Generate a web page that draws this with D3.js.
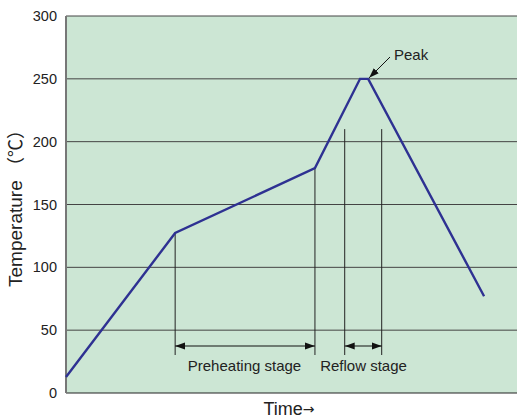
<!DOCTYPE html>
<html><head><meta charset="utf-8">
<script src="https://cdn.jsdelivr.net/npm/d3@7"></script>
<style>body{margin:0;background:#fff}svg{display:block;font-family:"Liberation Sans",Arial,sans-serif}</style>
</head><body>
<svg id="c" width="517" height="418"></svg>
<script>
const yTicks = [0, 50, 100, 150, 200, 250, 300];
const profileTime = [0, 24.2, 55.2, 65.2, 67.0, 92.7];
const profileTemp = [12.7, 127.3, 179, 250, 250, 77];
const preheatTimes = [24.2, 55.2];
const reflowTimes = [61.8, 70.0];
const reflowTopTemp = 210;
const stageLabels = ["Preheating stage", "Reflow stage"];

const svg = d3.select("#c");
const m = {l: 66, t: 16, r: 0, b: 25};
const W = 517, H = 418;
const x = d3.scaleLinear().domain([0, 100]).range([m.l, W - m.r]);
const y = d3.scaleLinear().domain([0, 300]).range([H - m.b, m.t]);

svg.append("defs").append("marker").attr("id","ah").attr("viewBox","0 0 10 10")
  .attr("refX",10).attr("refY",5).attr("markerWidth",10).attr("markerHeight",10)
  .attr("markerUnits","userSpaceOnUse").attr("orient","auto-start-reverse")
  .append("path").attr("d","M0,1.5L10,5L0,8.5Z").attr("fill","#111");

svg.append("rect").attr("x", x(0)).attr("y", y(300)).attr("width", x(100)-x(0)).attr("height", y(0)-y(300)).attr("fill","#cce6d4");

// grid
svg.append("g").selectAll("line").data(yTicks.filter(d=>d>0)).join("line")
  .attr("x1", x(0)).attr("x2", x(100)).attr("y1", d=>y(d)).attr("y2", d=>y(d))
  .attr("stroke","#444").attr("stroke-width",1);
svg.append("line").attr("x1", x(0)).attr("x2", x(100)).attr("y1", y(0)).attr("y2", y(0)).attr("stroke","#222").attr("stroke-width",1.2);
svg.append("line").attr("x1", x(0)).attr("x2", x(0)).attr("y1", y(0)).attr("y2", y(300)).attr("stroke","#777").attr("stroke-width",2);

// y tick labels
svg.append("g").selectAll("text").data(yTicks).join("text")
  .attr("x", x(0)-9).attr("y", d=>y(d)).attr("dy","0.35em").attr("text-anchor","end")
  .attr("font-size",14.5).attr("fill","#222").text(d=>d);

// stage markers
const armY = 355, arrowY = 346;
const pts = profileTime.map((t,i)=>[t, profileTemp[i]]);
const vline = (t, top) => svg.append("line").attr("x1",x(t)).attr("x2",x(t)).attr("y1",top).attr("y2",armY).attr("stroke","#222").attr("stroke-width",1);
vline(preheatTimes[0], y(profileTemp[1]));
vline(preheatTimes[1], y(profileTemp[2]));
vline(reflowTimes[0], y(reflowTopTemp));
vline(reflowTimes[1], y(reflowTopTemp));
[preheatTimes, reflowTimes].forEach((p,i)=>{
  svg.append("line").attr("x1",x(p[0])).attr("x2",x(p[1])).attr("y1",arrowY).attr("y2",arrowY)
    .attr("stroke","#111").attr("stroke-width",1)
    .attr("marker-start","url(#ah)").attr("marker-end","url(#ah)");
});
svg.append("text").attr("x",244.5).attr("y",371).attr("text-anchor","middle")
  .attr("font-size",15).attr("fill","#222").text(stageLabels[0]);
svg.append("text").attr("x",363.5).attr("y",371).attr("text-anchor","middle")
  .attr("font-size",15).attr("fill","#222").text(stageLabels[1]);

// profile
svg.append("path").datum(pts).attr("d", d3.line().x(d=>x(d[0])).y(d=>y(d[1])))
  .attr("fill","none").attr("stroke","#2e3192").attr("stroke-width",2.4).attr("stroke-linejoin","miter");

// peak annotation
svg.append("line").attr("x1",390).attr("y1",57).attr("x2",x(profileTime[4])+1).attr("y2",y(250)-1)
  .attr("stroke","#111").attr("stroke-width",1).attr("marker-end","url(#ah)");
svg.append("text").attr("x",394).attr("y",60).attr("font-size",15).attr("fill","#222").text("Peak");

// axis titles
const yl = svg.append("text").attr("transform",`translate(22,204) rotate(-90)`)
  .attr("text-anchor","middle").attr("font-size",19).attr("fill","#222");
yl.append("tspan").text("Temperature ");
yl.append("tspan").attr("font-family","'Noto Sans CJK JP'").attr("font-size",18).text("（℃）");
const tl = svg.append("text").attr("x",289).attr("y",415).attr("text-anchor","middle").attr("font-size",18).attr("fill","#222");
tl.append("tspan").text("Time");
tl.append("tspan").attr("font-family","'DejaVu Sans'").attr("font-size",14).attr("dy",-1).text("→");
</script>
</body></html>
